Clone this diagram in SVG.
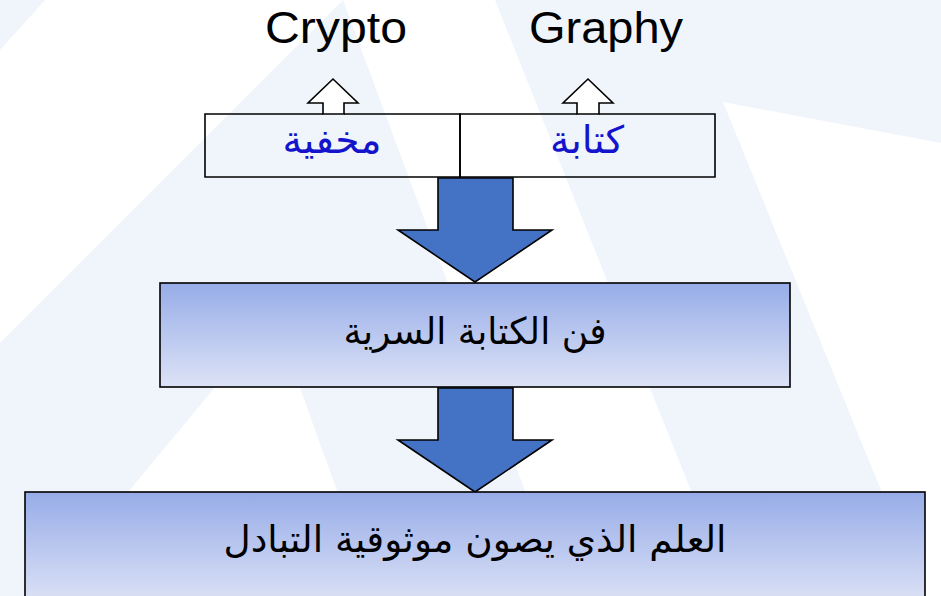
<svg xmlns="http://www.w3.org/2000/svg" width="941" height="596" viewBox="0 0 941 596">
  <defs>
    <linearGradient id="boxGrad" x1="0" y1="0" x2="0" y2="1">
      <stop offset="0" stop-color="#97ACE8"/>
      <stop offset="1" stop-color="#DDE3F6"/>
    </linearGradient>
    <style>
      .bg { fill: #EFF5FA; stroke: none; }
      .box { fill: url(#boxGrad); stroke: #000; stroke-width: 1.6; }
      .plain { fill: none; stroke: #000; stroke-width: 1.6; }
      .big-arrow { fill: #4472C4; stroke: #000; stroke-width: 1.6; stroke-linejoin: miter; }
      .up-arrow { fill: #FFFFFF; stroke: #000; stroke-width: 1.6; stroke-linejoin: miter; }
      .en { font-family: "Liberation Sans", Arial, sans-serif; font-size: 44px; fill: #000; text-anchor: middle; }
      .ar { font-family: "DejaVu Sans", sans-serif; font-size: 37px; fill: #000; text-anchor: middle; direction: rtl; }
      .ar-blue { font-family: "DejaVu Sans", sans-serif; font-size: 38px; fill: #1414CC; text-anchor: middle; direction: rtl; }
    </style>
  </defs>

  <!-- background -->
  <rect x="0" y="0" width="941" height="596" fill="#FFFFFF"/>
  <g id="background">
    <polygon class="bg" points="0,0 45,0 0,50"/>
    <polygon class="bg" points="343,0 0,343 0,596 564,596"/>
    <polygon fill="#FFFFFF" points="274,316 42,596 375,596"/>
    <polygon class="bg" points="495,0 941,0 941,143 723,102 924,596 733,596"/>
  </g>

  <!-- connectors -->
  <g id="connectors">
    <polygon class="up-arrow" points="323,114 323,103 308,103 333,79 358,103 344,103 344,114"/>
    <polygon class="up-arrow" points="577,114 577,103 563,103 588,79 613,103 599,103 599,114"/>
    <polygon class="big-arrow" points="438,178 513,178 513,230 552,230 475,282 398,230 438,230"/>
    <polygon class="big-arrow" points="438,388 513,388 513,440 552,440 475,492 398,440 438,440"/>
  </g>

  <!-- top labels -->
  <g id="node-crypto">
    <text class="en" x="336" y="43" textLength="142" lengthAdjust="spacingAndGlyphs">Crypto</text>
  </g>
  <g id="node-graphy">
    <text class="en" x="606" y="43" textLength="154" lengthAdjust="spacingAndGlyphs">Graphy</text>
  </g>

  <!-- top split box -->
  <g id="node-hidden">
    <path class="plain" d="M323,114 H205 V177 H460 V114 H344"/>
    <text class="ar-blue" x="332" y="153" textLength="99" lengthAdjust="spacingAndGlyphs">مخفية</text>
  </g>
  <g id="node-writing">
    <path class="plain" d="M577,114 H460 V177 H715 V114 H599"/>
    <text class="ar-blue" x="587" y="153" textLength="74" lengthAdjust="spacingAndGlyphs">كتابة</text>
  </g>

  <!-- middle box -->
  <g id="node-art">
    <rect class="box" x="160" y="283" width="630" height="104"/>
    <text class="ar" x="475" y="344" textLength="263" lengthAdjust="spacingAndGlyphs">فن الكتابة السرية</text>
  </g>

  <!-- bottom box -->
  <g id="node-science">
    <rect class="box" x="25" y="492" width="900" height="112"/>
    <text class="ar" x="475" y="552" textLength="503" lengthAdjust="spacingAndGlyphs">العلم الذي يصون موثوقية التبادل</text>
  </g>
</svg>
